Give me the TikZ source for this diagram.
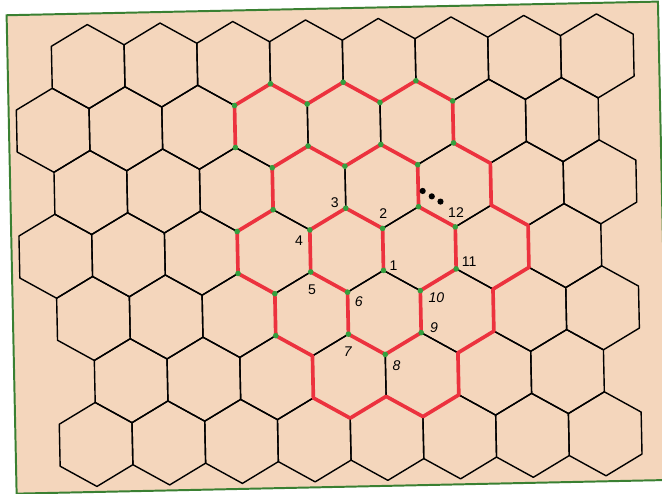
\documentclass[tikz,border=0pt]{standalone}
\usepackage{fontspec}
\setmainfont{Liberation Sans}
\definecolor{hexpeach}{RGB}{244,214,188}
\definecolor{pathred}{RGB}{236,50,62}
\definecolor{dotgreen}{RGB}{52,160,62}
\definecolor{framegreen}{RGB}{58,128,50}
\tikzset{
  hexcell/.style={black, line width=1pt, line join=round},
  spiral/.style={pathred, line width=2.6pt, line join=round, line cap=round},
  num/.style={font=\fontsize{10}{12}\selectfont, inner sep=0pt},
}
\begin{document}
\begin{tikzpicture}[x=0.025cm, y=0.025cm]
\useasboundingbox[fill=white] (0,0) rectangle (662,493);
\clip (0,0) rectangle (662,493);
\begin{scope}[rotate around={1.2:(331,246.5)}]
% Board
\draw[framegreen, line width=1.4pt, fill=hexpeach] (11.5,6) rectangle (663,484.5);
% Hexagon grid
\foreach \r/\kmin in {1/0,2/0,3/0,4/0,5/0,6/1,7/0}
  \foreach \k in {\kmin,...,7} {
    \pgfmathsetmacro{\cx}{55.6+72.75*\k+36.375*mod(\r,2)}
    \pgfmathsetmacro{\cy}{431.5-63*(\r-1)}
    \draw[hexcell] (\cx,\cy) +(30:42) -- +(90:42) -- +(150:42)
      -- +(210:42) -- +(270:42) -- +(330:42) -- cycle;
  }
% Corners of the spiral
\foreach \n/\x/\y in {1/383.0/221.5, 2/383.0/263.5, 3/346.6/284.5,
    4/310.2/263.5, 5/310.2/221.5, 6/346.6/200.5, 7/346.6/158.5,
    8/383.0/137.5, 9/419.4/158.5, 10/419.4/200.5, 11/455.7/221.5,
    12/455.7/263.5, 13/419.4/284.5, 14/419.4/326.5, 15/383.0/347.5,
    16/346.6/326.5, 17/310.2/347.5, 18/273.9/326.5, 19/273.9/284.5,
    20/237.5/263.5, 21/237.5/221.5, 22/273.9/200.5, 23/273.9/158.5,
    24/310.2/137.5, 25/310.2/95.5, 26/346.6/74.5, 27/383.0/95.5,
    28/419.4/74.5, 29/455.7/95.5, 30/455.7/137.5, 31/492.1/158.5,
    32/492.1/200.5, 33/528.5/221.5, 34/528.5/263.5, 35/492.1/284.5,
    36/492.1/326.5, 37/455.7/347.5, 38/455.7/389.5, 39/419.4/410.5,
    40/383.0/389.5, 41/346.6/410.5, 42/310.2/389.5, 43/273.9/410.5,
    44/237.5/389.5, 45/237.5/347.5}
  \coordinate (p\n) at (\x,\y);
% Spiral path
\draw[spiral] (p1) \foreach \i in {2,...,45} {-- (p\i)};
\foreach \i in {1,...,23} \fill[dotgreen] (p\i) circle (2pt);
\foreach \i in {37,...,45} \fill[dotgreen] (p\i) circle (2pt);
% Numbers
\node[num] (n1) at (393,226.5) {1};
\node[num] (n2) at (384,278.5) {2};
\node[num] (n3) at (335.6,290.5) {3};
\node[num] (n4) at (299.2,253.5) {4};
\node[num] (n5) at (311.2,203.5) {5};
\node[num] (n6) at (357.6,190.5) {\itshape 6};
\node[num] (n7) at (345.6,141.5) {\itshape 7};
\node[num] (n8) at (394,125.5) {\itshape 8};
\node[num] (n9) at (432.4,163.5) {\itshape 9};
\node[num] (n10) at (435.4,193.5) {\itshape 10};
\node[num] (n11) at (468.7,228.5) {11};
\node[num] (n12) at (456.7,277.5) {12};
\foreach \x/\y in {423.8/300.1, 432.8/294.5, 441.4/289.1}
  \fill (\x,\y) circle (2.2pt);
\end{scope}
\end{tikzpicture}
\end{document}
